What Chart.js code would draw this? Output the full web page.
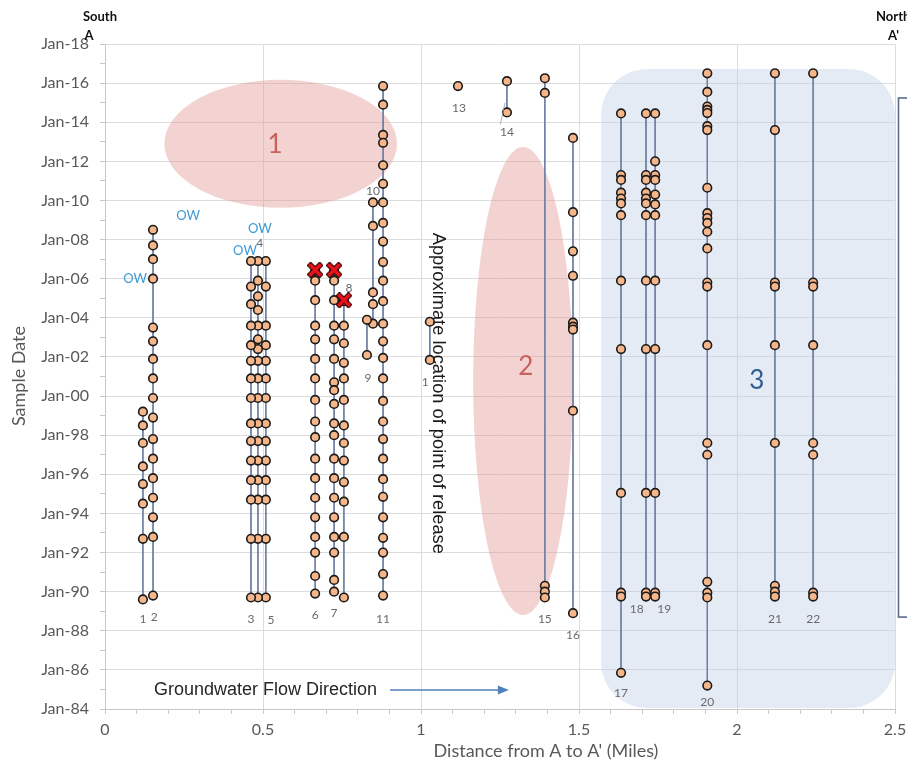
<!DOCTYPE html>
<html>
<head>
<meta charset="utf-8">
<script src="https://cdn.jsdelivr.net/npm/chart.js@4.4.1/dist/chart.umd.min.js"></script>
<style>
  body { margin: 0; background: #fff; }
  canvas { display: block; }
</style>
</head>
<body>
<canvas id="wellChart" width="907" height="767"></canvas>
<script>
// wells along section A - A'
var wellNames = ['1','2','3','4','5','6','7','8','9','10','11','12','13','14','15','16','17','18','19','20','21','22'];
var wellMiles = [0.120, 0.152, 0.462, 0.484, 0.509, 0.665, 0.725, 0.756, 0.829, 0.848, 0.880,
                 1.028, 1.117, 1.272, 1.392, 1.481, 1.633, 1.712, 1.741, 1.906, 2.120, 2.241];
// sample dates as decimal years
var wellYears = [
  [1999.2, 1998.5, 1997.6, 1996.4, 1995.5, 1994.5, 1992.7, 1989.6],
  [2008.5, 2007.7, 2007.0, 2006.0, 2003.5, 2002.8, 2001.9, 2000.9, 1999.9, 1998.9, 1997.8, 1996.8, 1995.8, 1994.8, 1993.8, 1992.8, 1989.8],
  [2006.9, 2005.6, 2004.7, 2003.6, 2002.6, 2001.8, 2000.9, 1999.9, 1998.6, 1997.7, 1996.7, 1995.7, 1994.7, 1992.7, 1989.7],
  [2006.9, 2005.9, 2005.1, 2004.4, 2003.6, 2002.9, 2002.4, 2001.8, 2000.9, 1999.9, 1998.6, 1997.7, 1996.7, 1995.7, 1994.7, 1992.7, 1989.7],
  [2006.9, 2005.6, 2003.6, 2002.6, 2001.8, 2000.9, 1999.9, 1998.6, 1997.7, 1996.7, 1995.7, 1994.7, 1992.7, 1989.7],
  [2006.4, 2005.9, 2004.9, 2003.6, 2002.9, 2001.9, 2000.9, 1999.8, 1998.7, 1997.9, 1996.8, 1995.8, 1994.8, 1993.8, 1992.8, 1992.0, 1990.8, 1989.9],
  [2006.4, 2005.9, 2004.9, 2003.6, 2002.9, 2001.9, 2000.7, 2000.3, 1999.6, 1998.6, 1998.0, 1996.8, 1995.8, 1994.8, 1993.8, 1992.8, 1992.0, 1990.6, 1990.0],
  [2004.85, 2003.6, 2002.7, 2001.7, 2000.9, 1999.8, 1998.5, 1997.6, 1996.7, 1995.6, 1994.6, 1992.8, 1989.7],
  [2003.9, 2002.1],
  [2009.9, 2008.7, 2005.3, 2004.7, 2003.7],
  [2015.85, 2014.9, 2013.35, 2012.95, 2011.8, 2010.85, 2009.9, 2008.85, 2007.9, 2006.85, 2005.9, 2004.85, 2003.7, 2002.8, 2001.95, 2000.9,
   1999.75, 1998.7, 1997.8, 1996.8, 1995.75, 1994.85, 1993.8, 1992.75, 1992.0, 1990.9, 1989.8],
  [2003.8, 2001.85],
  [2015.85],
  [2016.1, 2014.5],
  [2016.25, 2015.5, 1990.3, 1990.0, 1989.7],
  [2013.2, 2009.4, 2007.4, 2006.15, 2003.75, 2003.55, 2003.4, 1999.25, 1988.9],
  [2014.45, 2011.3, 2011.05, 2010.4, 2010.1, 2009.85, 2009.25, 2005.9, 2002.4, 1995.05, 1989.95, 1989.75, 1985.85],
  [2014.45, 2011.3, 2011.05, 2010.4, 2010.1, 2009.85, 2009.25, 2005.9, 2002.4, 1995.05, 1989.95, 1989.75],
  [2014.45, 2012.0, 2011.3, 2011.05, 2010.3, 2009.8, 2009.25, 2005.9, 2002.4, 1995.05, 1989.95, 1989.75],
  [2016.5, 2015.55, 2014.8, 2014.63, 2014.47, 2013.8, 2013.6, 2010.65, 2009.35, 2009.1, 2008.85, 2008.4, 2007.55, 2005.8, 2005.6,
   2002.6, 1997.6, 1997.0, 1990.5, 1989.95, 1989.7, 1985.2],
  [2016.5, 2013.6, 2005.8, 2005.6, 2002.6, 1997.6, 1990.3, 1990.0, 1989.75],
  [2016.5, 2005.8, 2005.6, 2002.6, 1997.6, 1997.0, 1989.95, 1989.75]
];
// samples marked with a red X
var flaggedMiles = [0.665, 0.725, 0.756];
var flaggedYears = [2006.45, 2006.45, 2004.9];

// where each well number is written
var labelNames = ['1','2','3','5','6','7','8','9','10','11','1','13','14','15','16','17','18','19','20','21','22','4'];
var labelMiles = [0.120, 0.156, 0.462, 0.525, 0.665, 0.725, 0.772, 0.832, 0.848, 0.880, 1.013, 1.120, 1.272, 1.392, 1.481, 1.633, 1.683, 1.770, 1.906, 2.120, 2.241, 0.490];
var labelYears = [1988.6, 1988.7, 1988.6, 1988.55, 1988.8, 1988.9, 2005.5, 2000.9, 2010.5, 1988.6, 2000.7, 2014.7, 2013.5, 1988.6, 1987.8, 1984.8, 1989.1, 1989.1, 1984.35, 1988.6, 1988.6, 2007.8];
var owMiles = [0.095, 0.263, 0.490, 0.443];
var owYears = [2006.0, 2009.2, 2008.55, 2007.45];

var tickFont = { family: 'Lato', size: 16 };
var grey = '#595959';

function yearLabel(v) {
  var yy = ((Math.round(v) % 100) + 100) % 100;
  return 'Jan-' + (yy < 10 ? '0' : '') + yy;
}

function isMult(v, step) {
  var r = v / step;
  return Math.abs(r - Math.round(r)) < 1e-6;
}

// red X marker image
function makeCross() {
  var c = document.createElement('canvas');
  c.width = 16; c.height = 16;
  var g = c.getContext('2d');
  g.lineCap = 'square';
  g.beginPath();
  g.moveTo(3.5, 3.5); g.lineTo(12.5, 12.5);
  g.moveTo(12.5, 3.5); g.lineTo(3.5, 12.5);
  g.strokeStyle = '#300000'; g.lineWidth = 5.8; g.stroke();
  g.strokeStyle = '#e8141b'; g.lineWidth = 3.6; g.stroke();
  return c;
}

var datasets = [];
for (var i = 0; i < wellNames.length; i++) {
  var pts = [];
  for (var j = 0; j < wellYears[i].length; j++) {
    pts.push({ x: wellMiles[i], y: wellYears[i][j] });
  }
  datasets.push({
    label: 'Well ' + wellNames[i],
    data: pts,
    showLine: true,
    borderColor: '#6e7fa3',
    borderWidth: 1,
    pointRadius: 4.3,
    pointBackgroundColor: '#f6b68a',
    pointBorderColor: '#1b1b1b',
    pointBorderWidth: 1.6
  });
}
var flagged = [];
for (var k = 0; k < flaggedMiles.length; k++) flagged.push({ x: flaggedMiles[k], y: flaggedYears[k] });
// order -1 keeps the crosses on top of the wells
datasets.push({ label: 'Flagged', data: flagged, showLine: false, order: -1, pointStyle: makeCross(), pointRadius: 8 });

function px(chart, v) { return chart.scales.x.getPixelForValue(v); }
function py(chart, v) { return chart.scales.y.getPixelForValue(v); }

function ellipse(chart, cx, cy, rx, ry, fill) {
  var ctx = chart.ctx;
  var x0 = px(chart, cx), y0 = py(chart, cy);
  ctx.beginPath();
  ctx.ellipse(x0, y0, Math.abs(px(chart, cx + rx) - x0), Math.abs(py(chart, cy + ry) - y0), 0, 0, Math.PI * 2);
  ctx.fillStyle = fill;
  ctx.fill();
}

var overlay = {
  id: 'overlay',
  beforeDatasetsDraw: function(chart) {
    var ctx = chart.ctx;
    ctx.save();
    // zone 3
    var l = px(chart, 1.57), r = px(chart, 2.5), t = py(chart, 2016.72), b = py(chart, 1984.05), rad = 46;
    ctx.beginPath();
    ctx.moveTo(l + rad, t);
    ctx.lineTo(r - rad, t);
    ctx.arcTo(r, t, r, t + rad, rad);
    ctx.lineTo(r, b - rad);
    ctx.arcTo(r, b, r - rad, b, rad);
    ctx.lineTo(l + rad, b);
    ctx.arcTo(l, b, l, b - rad, rad);
    ctx.lineTo(l, t + rad);
    ctx.arcTo(l, t, l + rad, t, rad);
    ctx.closePath();
    ctx.fillStyle = 'rgba(190,208,230,0.42)';
    ctx.fill();
    // zones 1 and 2
    ellipse(chart, 0.556, 2012.9, 0.368, 3.27, 'rgba(226,150,146,0.42)');
    ellipse(chart, 1.323, 2000.77, 0.158, 11.96, 'rgba(226,150,146,0.42)');
    ctx.restore();
  },
  afterDatasetsDraw: function(chart) {
    var ctx = chart.ctx, a = chart.chartArea;
    ctx.save();
    ctx.textAlign = 'center';
    ctx.textBaseline = 'middle';

    ctx.font = '12px Lato';
    ctx.fillStyle = '#6a6a6a';
    for (var i = 0; i < labelNames.length; i++) {
      ctx.fillText(labelNames[i], px(chart, labelMiles[i]), py(chart, labelYears[i]));
    }
    ctx.font = '13px Lato';
    ctx.fillStyle = '#3d9ad6';
    for (var j = 0; j < owMiles.length; j++) {
      ctx.fillText('OW', px(chart, owMiles[j]), py(chart, owYears[j]));
    }
    // leader for well 14
    ctx.strokeStyle = '#9a9a9a';
    ctx.lineWidth = 0.8;
    ctx.beginPath();
    ctx.moveTo(px(chart, 1.251), py(chart, 2013.9));
    ctx.lineTo(px(chart, 1.266), py(chart, 2015.0));
    ctx.stroke();

    // zone numbers
    ctx.font = '26px Lato';
    ctx.fillStyle = '#c8605c';
    ctx.fillText('1', px(chart, 0.538), py(chart, 2012.85));
    ctx.fillText('2', px(chart, 1.332), py(chart, 2001.5));
    ctx.fillStyle = '#2f5d92';
    ctx.fillText('3', px(chart, 2.063), py(chart, 2000.8));

    // flow direction
    ctx.font = '18px "Liberation Sans"';
    ctx.fillStyle = '#262626';
    ctx.textAlign = 'left';
    ctx.fillText('Groundwater Flow Direction', px(chart, 0.155), py(chart, 1984.97));
    var ax0 = px(chart, 0.902), ax1 = px(chart, 1.278), ay = py(chart, 1984.97);
    ctx.strokeStyle = '#4f81bd';
    ctx.fillStyle = '#4f81bd';
    ctx.lineWidth = 1.6;
    ctx.beginPath();
    ctx.moveTo(ax0, ay); ctx.lineTo(ax1 - 9, ay); ctx.stroke();
    ctx.beginPath();
    ctx.moveTo(ax1, ay); ctx.lineTo(ax1 - 11, ay - 4.5); ctx.lineTo(ax1 - 11, ay + 4.5); ctx.closePath(); ctx.fill();

    // point of release
    ctx.save();
    ctx.translate(px(chart, 1.053), py(chart, 2008.35));
    ctx.rotate(Math.PI / 2);
    ctx.font = '18.3px "Liberation Sans"';
    ctx.fillStyle = '#1a1a1a';
    ctx.textAlign = 'left';
    ctx.fillText('Approximate location of point of release', 0, 0);
    ctx.restore();

    // right-hand box (cut off)
    ctx.strokeStyle = '#5b6b8c';
    ctx.lineWidth = 1.6;
    ctx.strokeRect(a.right + 3.5, py(chart, 2015.24), 40, py(chart, 1988.7) - py(chart, 2015.24));

    // section ends
    ctx.fillStyle = '#111';
    ctx.font = 'bold 13px Lato';
    ctx.textAlign = 'center';
    ctx.fillText('South', 100, 17);
    ctx.fillText('A', 89, 36);
    ctx.textAlign = 'left';
    ctx.fillText('North', 876, 17);
    ctx.fillText("A'", 888, 36);

    // axis titles
    ctx.fillStyle = grey;
    ctx.font = '18px Lato';
    ctx.textAlign = 'center';
    ctx.fillText("Distance from A to A' (Miles)", 546, 751);
    ctx.save();
    ctx.translate(19, 376);
    ctx.rotate(-Math.PI / 2);
    ctx.fillText('Sample Date', 0, 0);
    ctx.restore();

    ctx.restore();
  }
};

new Chart(document.getElementById('wellChart'), {
  type: 'scatter',
  data: { datasets: datasets },
  options: {
    responsive: false,
    animation: false,
    layout: { padding: { top: 44, right: 12, left: 0, bottom: 0 } },
    plugins: { legend: { display: false }, tooltip: { enabled: false } },
    scales: {
      x: {
        type: 'linear',
        min: 0, max: 2.5,
        afterFit: function(s) { s.height = 58; s.paddingLeft = 0; s.paddingRight = 0; },
        border: { color: '#c8c8c8' },
        grid: {
          color: function(c) { return isMult(c.tick.value, 0.5) ? '#dcdcdc' : 'rgba(0,0,0,0)'; },
          tickColor: '#c8c8c8',
          tickLength: 5
        },
        ticks: {
          stepSize: 0.1,
          autoSkip: false,
          maxRotation: 0,
          padding: 6,
          color: grey,
          font: tickFont,
          callback: function(v) { return isMult(v, 0.5) ? String(Math.round(v * 10) / 10) : ''; }
        }
      },
      y: {
        type: 'linear',
        min: 1984, max: 2018,
        afterFit: function(s) { s.width = 105; s.paddingTop = 0; s.paddingBottom = 0; },
        border: { color: '#c8c8c8' },
        grid: {
          color: function(c) { return isMult(c.tick.value, 2) ? '#dcdcdc' : 'rgba(0,0,0,0)'; },
          tickColor: '#c8c8c8',
          tickLength: 5
        },
        ticks: {
          stepSize: 1,
          autoSkip: false,
          padding: 11,
          color: grey,
          font: tickFont,
          callback: function(v) { return isMult(v, 2) ? yearLabel(v) : ''; }
        }
      }
    }
  },
  plugins: [overlay]
});
</script>
</body>
</html>
